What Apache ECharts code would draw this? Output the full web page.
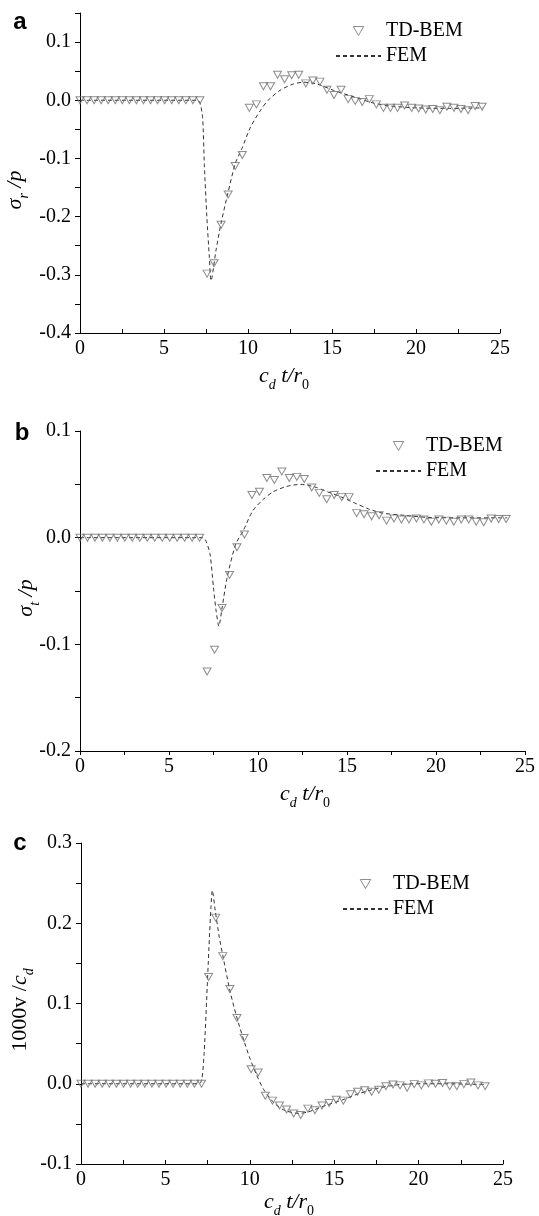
<!DOCTYPE html>
<html>
<head>
<meta charset="utf-8">
<title>TD-BEM vs FEM</title>
<script src="https://cdn.jsdelivr.net/npm/echarts@6/dist/echarts.min.js"></script>
<style>
  * { margin: 0; padding: 0; }
  body { background: #fff; }
  #main { width: 539px; height: 1216px; }
</style>
</head>
<body>
<div id="main"></div>
<script>
  // time steps of the TD-BEM solution (cd t / r0)
  var xBem = [0, 0.42, 0.84, 1.26, 1.68, 2.10, 2.52, 2.94, 3.36, 3.78, 4.20, 4.62, 5.04, 5.46, 5.88, 6.30,
    6.72, 7.14, 7.56, 7.98, 8.40, 8.82, 9.24, 9.66, 10.08, 10.50, 10.92, 11.34, 11.76, 12.18, 12.60,
    13.02, 13.44, 13.86, 14.28, 14.70, 15.12, 15.54, 15.96, 16.38, 16.80, 17.22, 17.64, 18.06, 18.48,
    18.90, 19.32, 19.74, 20.16, 20.58, 21.00, 21.42, 21.84, 22.26, 22.68, 23.10, 23.52, 23.94]

  // a: sigma_r / p
  var bemA = [0, 0, 0, 0, 0, 0, 0, 0, 0, 0, 0, 0, 0, 0, 0, 0, 0, 0,
    -0.298, -0.28, -0.214, -0.162, -0.113, -0.094, -0.013, -0.007, 0.024, 0.024, 0.044, 0.036, 0.043, 0.044,
    0.029, 0.034, 0.032, 0.018, 0.009, 0.018, 0.002, -0.001, -0.003, 0.002, -0.007, -0.013, -0.013, -0.013,
    -0.009, -0.013, -0.014, -0.016, -0.015, -0.017, -0.011, -0.013, -0.015, -0.017, -0.010, -0.011]
  var femAx = [0, 7.0, 7.15, 7.3, 7.4, 7.55, 7.7, 7.8, 8.1, 8.4, 8.8, 9.25, 9.65, 10.15, 10.75, 11.2, 11.9,
    12.7, 13.3, 14.1, 15.1, 16.6, 17.5, 18.5, 20, 22, 24]
  var femAy = [0, 0, -0.005, -0.03, -0.11, -0.2, -0.27, -0.31, -0.257, -0.211, -0.16, -0.108, -0.082, -0.046,
    -0.017, 0, 0.017, 0.028, 0.031, 0.028, 0.017, 0.003, -0.005, -0.01, -0.013, -0.014, -0.013]

  // b: sigma_t / p
  var bemB = [0, 0, 0, 0, 0, 0, 0, 0, 0, 0, 0, 0, 0, 0, 0, 0, 0,
    -0.1255, -0.105, -0.066, -0.035, -0.009, 0.003, 0.040, 0.043, 0.056, 0.054, 0.062, 0.056, 0.057, 0.055,
    0.047, 0.042, 0.036, 0.040, 0.038, 0.038, 0.023, 0.022, 0.020, 0.021, 0.016, 0.018, 0.017, 0.017, 0.018,
    0.017, 0.015, 0.017, 0.016, 0.015, 0.017, 0.017, 0.015, 0.0145, 0.018, 0.0175, 0.0175]
  var femBx = [0, 6.9, 7.05, 7.3, 7.5, 7.65, 7.8, 7.98, 8.27, 8.75, 9.17, 9.7, 10.3, 10.85, 11.6, 12.4, 13.2,
    13.9, 14.7, 15.5, 16.2, 17.0, 18.2, 19.5, 21.4, 24]
  var femBy = [0, 0, -0.002, -0.015, -0.047, -0.069, -0.083, -0.066, -0.037, -0.006, 0.0066, 0.025, 0.036,
    0.043, 0.048, 0.050, 0.0475, 0.043, 0.038, 0.032, 0.027, 0.023, 0.021, 0.019, 0.0186, 0.0186]

  // c: 1000 v / cd
  var bemC = [0, 0, 0, 0, 0, 0, 0, 0, 0, 0, 0, 0, 0, 0, 0, 0, 0, 0,
    0.133, 0.207, 0.159, 0.118, 0.082, 0.057, 0.018, 0.014, -0.015, -0.021, -0.027, -0.032, -0.037, -0.039,
    -0.031, -0.033, -0.027, -0.024, -0.020, -0.021, -0.013, -0.010, -0.008, -0.010, -0.0075, -0.003, -0.001,
    -0.002, -0.005, -0.0005, -0.002, 0.0005, 0, 0.001, -0.003, -0.003, -0.0005, 0.0015, -0.002, -0.003]
  var femCx = [0, 7.0, 7.17, 7.3, 7.44, 7.58, 7.7, 7.78, 7.95, 8.19, 8.4, 8.8, 9.2, 9.6, 10.0, 10.4, 10.83,
    11.44, 12.05, 12.87, 13.47, 14.5, 15.5, 16.5, 17.5, 18.5, 19.6, 21.6, 23.9]
  var femCy = [0, 0, 0.007, 0.04, 0.103, 0.17, 0.22, 0.241, 0.216, 0.183, 0.16, 0.118, 0.085, 0.057, 0.032,
    0.011, -0.0075, -0.024, -0.033, -0.037, -0.035, -0.027, -0.020, -0.012, -0.006, -0.002, 0, 0, -0.001]

  var yRanges = [[-0.4, 0.15], [-0.2, 0.1], [-0.1, 0.3]]

  var serif = '"Liberation Serif", "Times New Roman", serif'

  function pairs (xs, ys) {
    return xs.map(function (x, i) { return [x, ys[i]] })
  }

  function xAxisOf (i, tickInside) {
    return {
      type: 'value', gridIndex: i, min: 0, max: 25, interval: 2.5,
      axisLine: { onZero: false, lineStyle: { color: '#000', width: 1 } },
      axisTick: { inside: tickInside, length: 4, lineStyle: { color: '#000' } },
      splitLine: { show: false },
      axisLabel: {
        color: '#000', fontFamily: serif, fontSize: 20, margin: 6,
        formatter: function (v) { return v % 5 === 0 ? String(v) : '' }
      }
    }
  }

  function yAxisOf (i) {
    return {
      type: 'value', gridIndex: i, min: yRanges[i][0], max: yRanges[i][1], interval: 0.05,
      axisLine: { onZero: false, lineStyle: { color: '#000', width: 1 } },
      axisTick: { inside: false, length: 5, lineStyle: { color: '#000' } },
      splitLine: { show: false },
      axisLabel: {
        color: '#000', fontFamily: serif, fontSize: 20, margin: 9,
        formatter: function (v) {
          var k = Math.round(v * 20)
          return k % 2 === 0 ? (Math.round(v * 10) / 10).toFixed(1) : ''
        }
      }
    }
  }

  function bemSeries (i, ys) {
    return {
      name: 'TD-BEM', type: 'scatter', xAxisIndex: i, yAxisIndex: i, z: 3,
      symbol: 'triangle', symbolRotate: 180, symbolSize: [8, 7],
      itemStyle: { color: 'rgba(255,255,255,0)', borderColor: '#707070', borderWidth: 1 },
      data: pairs(xBem, ys)
    }
  }

  function femSeries (i, xs, ys) {
    return {
      name: 'FEM', type: 'line', xAxisIndex: i, yAxisIndex: i, z: 2,
      symbol: 'none', showSymbol: false, smooth: 0.25,
      lineStyle: { color: '#333', width: 1, type: [4, 3] },
      data: pairs(xs, ys)
    }
  }

  // legend icons: a small down triangle, and the dashed line without its dot
  function legendAt (left, top) {
    return {
      orient: 'vertical', left: left, top: top,
      itemWidth: 45, itemHeight: 9, itemGap: 5,
      textStyle: { color: '#000', fontFamily: serif, fontSize: 20, lineHeight: 20 },
      data: [
        { name: 'TD-BEM', icon: 'path://M0,0L10,0L5,8.7Z', itemStyle: { color: 'rgba(255,255,255,0)', borderColor: '#707070', borderWidth: 1 } },
        { name: 'FEM', itemStyle: { color: 'rgba(0,0,0,0)', borderWidth: 0 } }
      ]
    }
  }

  var it = { fontFamily: serif, fontStyle: 'italic', fontSize: 22, color: '#000', verticalAlign: 'top', lineHeight: 24 }
  var up = { fontFamily: serif, fontSize: 22, color: '#000', verticalAlign: 'top', lineHeight: 24 }
  var sub = { fontFamily: serif, fontStyle: 'italic', fontSize: 14, color: '#000', verticalAlign: 'top', lineHeight: 14, padding: [13, 0, 0, 0] }
  var sub0 = { fontFamily: serif, fontSize: 14, color: '#000', verticalAlign: 'top', lineHeight: 14, padding: [13, 0, 0, 0] }
  var rich = { i: it, n: up, s: sub, z: sub0 }

  function label (x, y, text, rotate) {
    return {
      type: 'text', x: x, y: y, rotation: rotate ? Math.PI / 2 : 0,
      style: { text: text, rich: rich, align: 'center', verticalAlign: 'middle' }
    }
  }

  function letter (x, y, t) {
    return {
      type: 'text', x: x, y: y,
      style: { text: t, fontFamily: '"Liberation Sans", Arial, sans-serif', fontWeight: 'bold', fontSize: 24,
        fill: '#000', align: 'center', verticalAlign: 'middle' }
    }
  }

  var xName = '{i|c}{s|d}{i| t/r}{z|0}'

  var chart = echarts.init(document.getElementById('main'))
  chart.setOption({
    animation: false,
    backgroundColor: '#fff',
    textStyle: { fontFamily: serif },
    grid: [
      { left: 80, top: 13, width: 420, height: 320 },
      { left: 80, top: 431, width: 445, height: 320 },
      { left: 81, top: 843, width: 422, height: 321 }
    ],
    xAxis: [xAxisOf(0, true), xAxisOf(1, false), xAxisOf(2, true)],
    yAxis: [yAxisOf(0), yAxisOf(1), yAxisOf(2)],
    legend: [legendAt(330, 16), legendAt(370, 431), legendAt(337, 869)],
    series: [
      femSeries(0, femAx, femAy), bemSeries(0, bemA),
      femSeries(1, femBx, femBy), bemSeries(1, bemB),
      femSeries(2, femCx, femCy), bemSeries(2, bemC)
    ],
    graphic: [
      letter(20, 22, 'a'), letter(22, 433, 'b'), letter(20, 843, 'c'),
      label(284, 377, xName), label(305, 795, xName), label(289, 1203, xName),
      label(16, 190, '{i|σ}{s|r}{i| /p}', true),
      label(27, 598, '{i|σ}{s|t}{i| /p}', true),
      label(21, 1010, '{n|1000v /}{i|c}{s|d}', true)
    ]
  })
</script>
</body>
</html>
